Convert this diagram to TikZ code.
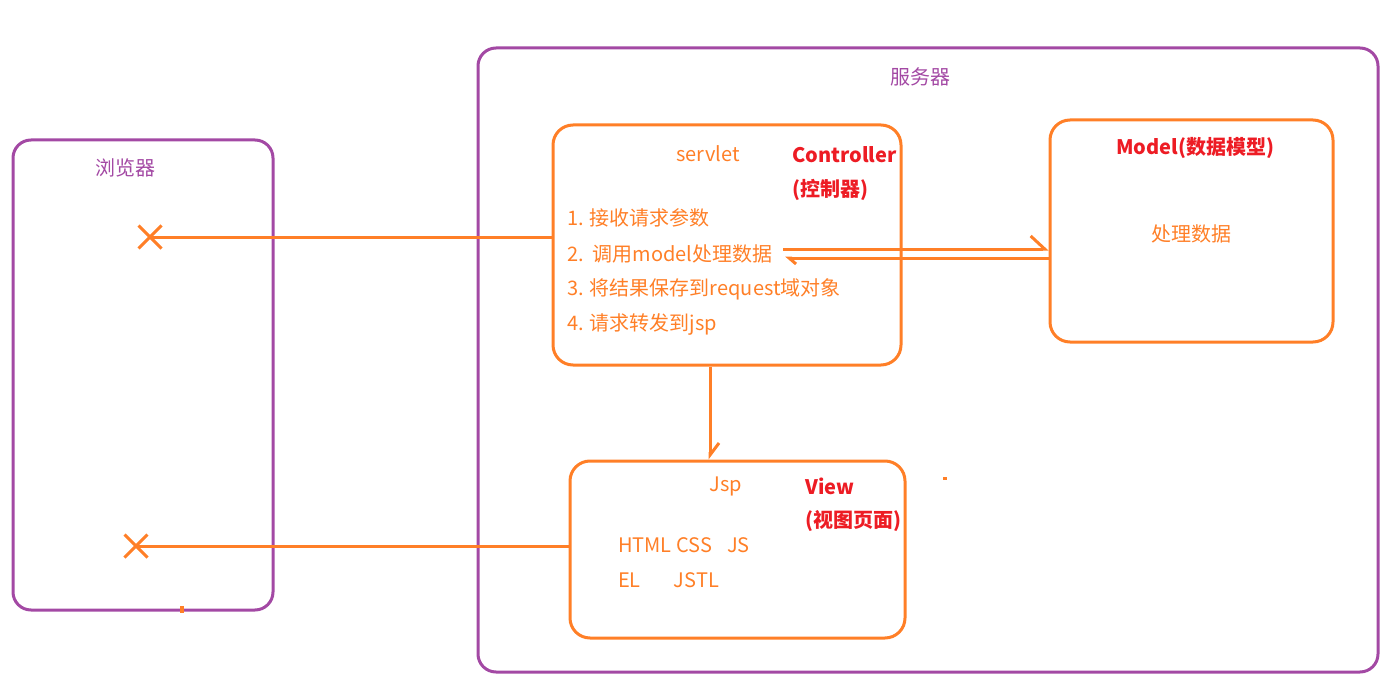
\documentclass[tikz,border=0pt]{standalone}
\usepackage{fontspec}
\setmainfont{Noto Sans CJK SC}
\usetikzlibrary{arrows.meta,shapes.misc}
\definecolor{paintorange}{RGB}{255,127,39}
\definecolor{paintpurple}{RGB}{163,73,164}
\definecolor{paintred}{RGB}{237,28,36}

\begin{document}
\begin{tikzpicture}[x=1pt,y=-1pt]
   \tikzstyle{every node}=[font=\fontsize{20}{24}\selectfont, inner sep=0pt]
   \tikzstyle{outer}=[draw=paintpurple, line width=3pt, rounded corners=18pt]
   \tikzstyle{part}=[draw=paintorange, line width=3pt, rounded corners=20pt]
   \tikzstyle{place}=[text=paintpurple]
   \tikzstyle{note}=[text=paintorange, anchor=west]
   \tikzstyle{role}=[text=paintred, font=\fontsize{20}{24}\selectfont\bfseries, anchor=west]
   \tikzstyle{link}=[draw=paintorange, line width=3pt]
   \tikzstyle{hit}=[cross out, draw=paintorange, line width=3pt, minimum size=20pt]

\useasboundingbox (0,0) rectangle (1395,698);

% browser and server
\node[outer, minimum width=260, minimum height=470] (browser) at (143,375) {};
\node[place] (browsertitle) at (125,168) {浏览器};
\node[outer, minimum width=900, minimum height=624] (server) at (928,360) {};
\node[place] (servertitle) at (920,77) {服务器};

% controller
\node[part, minimum width=348, minimum height=240] (ctrl) at (727,245) {};
\node[note, anchor=center] (servlet) at (708,154) {servlet};
\node[role] (ctrlname) at (792,155) {Controller};
\node[role] (ctrlcn) at (792,190) {(控制器)};
\node[note] (step1) at (567,218) {1. 接收请求参数};
\node[note] (step2) at (567,254) {2.\ \ 调用model处理数据};
\node[note] (step3) at (567,289) {3. 将结果保存到request域对象};
\node[note] (step4) at (567,324) {4. 请求转发到jsp};

% model
\node[part, minimum width=283, minimum height=222] (model) at (1191.5,231) {};
\node[role, anchor=center] (modelname) at (1195,148) {Model(数据模型)};
\node[note, anchor=center] (modeltext) at (1191,234) {处理数据};

% view
\node[part, minimum width=335, minimum height=177] (view) at (737.5,549.5) {};
\node[note, anchor=center] (jsp) at (726,486) {Jsp};
\node[role] (viewname) at (805,486) {View};
\node[role] (viewcn) at (805,521) {(视图页面)};
\node[note] (tech1) at (618,545) {HTML CSS\hspace{15pt}JS};
\node[note] (tech2) at (618,580) {EL\hspace{33pt}JSTL};

% responses to the browser
\node[hit] (xc) at (150,237) {};
\node[hit] (xv) at (136,546) {};
\draw[link] (ctrl.west |- xc) -- (xc.center);
\draw[link] (view.west |- xv) -- (xv.center);

% controller <-> model, controller -> view
\coordinate (callout) at (783,249);
\coordinate (callback) at (785,258);
\draw[link, -{Straight Barb[harpoon, length=14pt, width=26pt]}] (callout) -- (callout -| model.west);
\draw[link, -{Straight Barb[harpoon, length=7pt, width=12pt]}] (callback -| model.west) -- (callback);
\draw[link, -{Straight Barb[harpoon, length=12pt, width=18pt]}] ([xshift=-17pt]ctrl.south) -- ([xshift=-17pt]ctrl.south |- view.north);

% stray marks
\fill[paintorange] (943,477) rectangle (947,480);
\fill[paintorange] (180,606) rectangle (184,613);

\end{tikzpicture}
\end{document}
